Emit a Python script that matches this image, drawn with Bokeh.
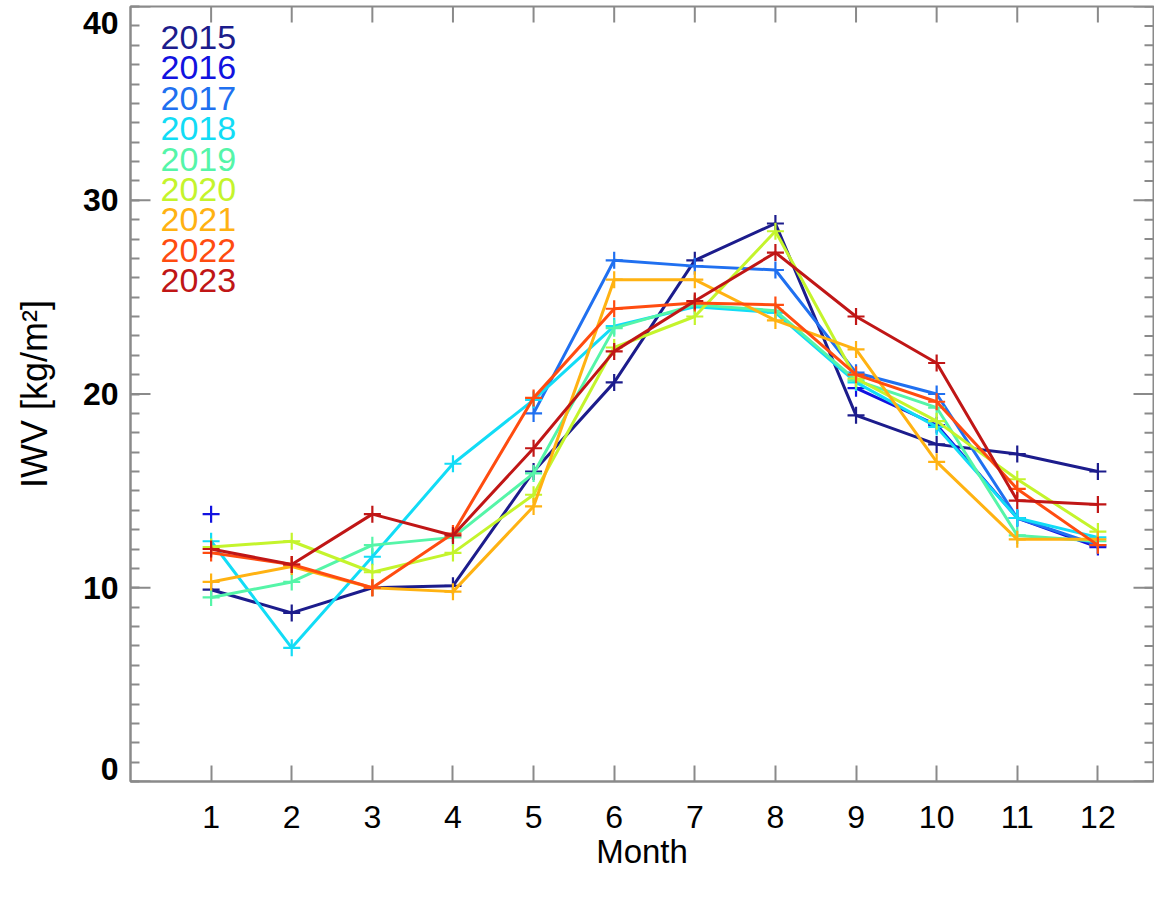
from bokeh.plotting import figure
from bokeh.models import FixedTicker, Label, Range1d
from bokeh.embed import file_html
from bokeh.resources import INLINE

nan = float("nan")
months = list(range(1, 13))
month_ticks = list(range(1, 13))
y_major = [0, 10, 20, 30, 40]
y_minor = list(range(0, 41))

years = ["2015", "2016", "2017", "2018", "2019", "2020", "2021", "2022", "2023"]
colors = ["#1c1c8c", "#1212e0", "#2070f0", "#12dcf6", "#55f5a8",
          "#c4f42c", "#ffb212", "#ff4c10", "#c01616"]

v2015 = [9.9, 8.7, 10.0, 10.1, 16.0, 20.6, 26.9, 28.8, 18.9, 17.4, 16.9, 16.0]
v2016 = [13.8, nan, nan, nan, nan, nan, nan, nan, 20.3, 18.4, 13.6, 12.1]
v2017 = [nan, nan, nan, nan, 19.0, 26.9, 26.6, 26.4, 21.1, 20.0, 13.6, 12.2]
v2018 = [12.4, 6.9, 11.6, 16.4, 19.7, 23.5, 24.5, 24.2, 20.6, 18.3, 13.6, 12.6]
v2019 = [9.5, 10.3, 12.2, 12.6, 15.9, 23.4, 24.6, 24.3, 20.7, 19.3, 12.7, 12.4]
v2020 = [12.1, 12.4, 10.8, 11.8, 14.8, 22.4, 24.0, 28.4, 20.8, 18.6, 15.6, 12.9]
v2021 = [10.3, 11.1, 10.0, 9.8, 14.2, 25.9, 25.9, 23.8, 22.3, 16.5, 12.5, 12.5]
v2022 = [11.8, 11.2, 10.0, 12.8, 19.8, 24.4, 24.7, 24.6, 21.0, 19.6, 15.1, 12.2]
v2023 = [12.0, 11.2, 13.8, 12.7, 17.2, 22.2, 24.8, 27.3, 24.0, 21.6, 14.5, 14.3]
series = [v2015, v2016, v2017, v2018, v2019, v2020, v2021, v2022, v2023]

FONT = "Liberation Sans"
AX = "#8a8a8a"

W, H = 1154, 882
BL, BR, BT, BB = 130, 1, 6, 101
X0, X1, Y0, Y1 = 0, 12.69, 0, 40
px_x = (W - BL - BR) / (X1 - X0)
px_y = (H - BT - BB) / (Y1 - Y0)

p = figure(width=W, height=H, x_range=Range1d(X0, X1), y_range=Range1d(Y0, Y1),
           output_backend="svg", toolbar_location=None,
           min_border_left=BL, min_border_right=BR, min_border_top=BT, min_border_bottom=BB)
p.grid.visible = False
p.outline_line_color = AX
p.outline_line_width = 2
p.background_fill_color = "white"

xa = p.xaxis[0]
xa.ticker = FixedTicker(ticks=month_ticks)
xa.axis_label = "Month"
xa.major_tick_in = 16
xa.major_tick_out = 0
xa.minor_tick_in = 0
xa.minor_tick_out = 0
xa.major_label_standoff = 24
xa.axis_label_standoff = 2
xa.major_label_text_font = FONT
xa.major_label_text_font_size = "32px"
xa.axis_label_text_font = FONT
xa.axis_label_text_font_size = "33px"
xa.axis_label_text_font_style = "normal"

# the end labels (0 and 40) sit slightly inside the frame in the reference
label_pos = [y_major[0] + 13 / px_y] + y_major[1:-1] + [y_major[-1] - 16 / px_y]
ya = p.yaxis[0]
ya.ticker = FixedTicker(ticks=label_pos, minor_ticks=y_minor)
ya.major_label_overrides = {label_pos[0]: str(y_major[0]), label_pos[-1]: str(y_major[-1])}
ya.axis_label = "IWV [kg/m²]"
ya.major_tick_in = 0
ya.major_tick_out = 0
ya.minor_tick_in = 9
ya.minor_tick_out = 0
ya.major_label_standoff = 12
ya.axis_label_standoff = 25
ya.major_label_text_font = FONT
ya.major_label_text_font_size = "32px"
ya.major_label_text_font_style = "bold"
ya.axis_label_text_font = FONT
ya.axis_label_text_font_size = "36px"
ya.axis_label_text_font_style = "normal"

for ax in [xa, ya]:
    ax.axis_line_color = AX
    ax.axis_line_width = 2
    ax.major_tick_line_color = AX
    ax.minor_tick_line_color = AX
    ax.major_tick_line_width = 2
    ax.minor_tick_line_width = 2
    ax.major_label_text_color = "black"
    ax.axis_label_text_color = "black"

# major y ticks on the left, and mirrored ticks on the top and right frame edges
p.segment(x0=[X0] * len(y_major), y0=y_major, x1=[X0 + 20 / px_x] * len(y_major),
          y1=y_major, line_color=AX, line_width=2)
p.segment(x0=month_ticks, y0=[Y1] * len(month_ticks), x1=month_ticks,
          y1=[Y1 - 16 / px_y] * len(month_ticks), line_color=AX, line_width=2)
p.segment(x0=[X1] * len(y_minor), y0=y_minor, x1=[X1 - 9 / px_x] * len(y_minor),
          y1=y_minor, line_color=AX, line_width=2)
p.segment(x0=[X1] * len(y_major), y0=y_major, x1=[X1 - 20 / px_x] * len(y_major),
          y1=y_major, line_color=AX, line_width=2)

for yr, col, vals in zip(years, colors, series):
    p.line(months, vals, line_color=col, line_width=3)
    p.scatter(months, vals, marker="cross", size=17, line_color=col, line_width=2.2)

for i, (yr, col) in enumerate(zip(years, colors)):
    p.add_layout(Label(x=(160 - BL) / px_x, y=Y1 - (37 - BT) / px_y - i * 30.4 / px_y,
                       text=yr, text_color=col,
                       text_font=FONT, text_font_size="34px", text_baseline="middle",
                       text_align="left"))

open("out.html", "w").write(file_html(p, INLINE))
